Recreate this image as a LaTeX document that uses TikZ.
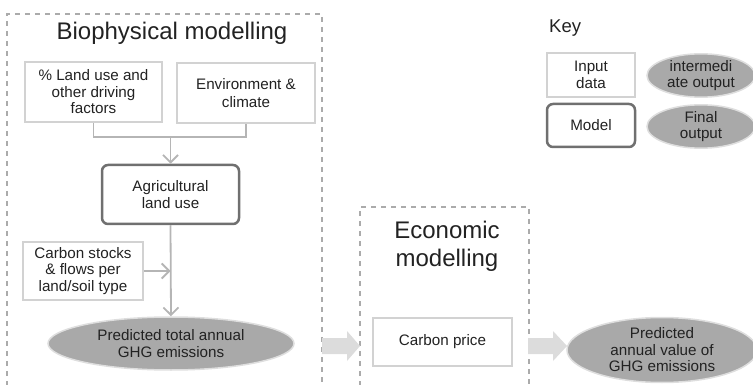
\documentclass[tikz,border=0pt]{standalone}
\usepackage{fontspec}
\setmainfont{Liberation Sans}
\usetikzlibrary{arrows.meta,shapes.geometric,calc}
\definecolor{txt}{HTML}{222222}
\definecolor{inborder}{HTML}{D2D2D2}
\definecolor{modborder}{HTML}{707070}
\definecolor{ellfill}{HTML}{A9A9A9}
\definecolor{ellborder}{HTML}{DEDEDE}
\definecolor{dashcol}{HTML}{ABABAB}
\definecolor{conncol}{HTML}{B5B5B5}
\definecolor{fatcol}{HTML}{DCDCDC}
\tikzset{
  boxtext/.style={text=txt, align=center, font=\fontsize{15.2}{16.5}\selectfont, inner sep=0pt},
  inputbox/.style={boxtext, draw=inborder, line width=2pt, fill=white},
  modelbox/.style={boxtext, draw=modborder, line width=2.5pt, rounded corners=6pt, fill=white},
  outell/.style={boxtext, ellipse, draw=ellborder, line width=1.5pt, fill=ellfill},
  dashframe/.style={draw=dashcol, line width=1.3pt, dash pattern=on 5pt off 5pt},
  conn/.style={draw=conncol, line width=1.8pt, -{Straight Barb[length=7.5pt,width=15pt,line width=1.8pt]}},
  plainconn/.style={draw=conncol, line width=1.8pt},
  fatarrow/.style={fill=fatcol, draw=none},
  title/.style={text=txt, align=center, inner sep=0pt}
}
\begin{document}
\begin{tikzpicture}[x=1pt,y=-1pt]
\useasboundingbox (0,0) rectangle (753,385);
\clip (0,0) rectangle (753,385);
% dashed frames
\draw[dashframe] (7,386) -- (7,14) -- (322,14) -- (322,386);
\draw[dashframe] (360,386) -- (360,207) -- (529,207) -- (529,386);
% titles
\node[title, font=\fontsize{24}{28}\selectfont] (biot) at (172,33) {Biophysical modelling};
\node[title, font=\fontsize{24}{28}\selectfont] (econt) at (447,246) {Economic\\modelling};
\node[title, font=\fontsize{18.5}{20}\selectfont, anchor=west] (key) at (549,28) {Key};
% biophysical nodes
\node[inputbox, minimum width=137pt, minimum height=60pt] (land) at (93.5,92) {\% Land use and\\other driving\\factors};
\node[inputbox, minimum width=138pt, minimum height=60pt, font=\fontsize{15.2}{18}\selectfont] (env) at (246,93) {Environment \&\\climate};
\node[modelbox, minimum width=137pt, minimum height=59pt] (agri) at (170.5,194.5) {Agricultural\\land use};
\node[inputbox, minimum width=120pt, minimum height=58pt] (carbon) at (83,271) {Carbon stocks\\\& flows per\\land/soil type};
\node[outell, minimum width=246pt, minimum height=53pt] (ghg) at (171,343.5) {Predicted total annual\\GHG emissions};
% economic nodes
\node[inputbox, minimum width=139pt, minimum height=48pt] (price) at (442.5,342) {Carbon price};
\node[outell, minimum width=190pt, minimum height=65pt] (value) at (662,350) {Predicted\\annual value of\\GHG emissions};
% key nodes
\node[inputbox, minimum width=88pt, minimum height=44pt] (kin) at (591,75) {Input\\data};
\node[modelbox, minimum width=88pt, minimum height=43pt] (kmod) at (591,125.5) {Model};
\node[outell, minimum width=108pt, minimum height=43pt] (kint) at (701,75.5) {intermedi\\ate output};
\node[outell, minimum width=108pt, minimum height=41pt] (kfin) at (701,126.5) {Final\\output};
% connectors
\coordinate (junc) at (agri.north |- 0,137);
\draw[plainconn] (land.south) |- (junc) -| (env.south);
\draw[conn] (junc) -- (agri.north);
\draw[conn] (agri.south) -- (ghg.north);
\draw[conn] (carbon.east) -- (carbon.east -| agri.south);
% fat arrows
\coordinate (fa1) at (322,346);
\coordinate (fa2) at (528,346);
\fill[fatarrow] ($(fa1)+(0,-8)$) -- ++(25,0) -- ++(0,-7) -- ++(13,15) -- ++(-13,15) -- ++(0,-7) -- ++(-25,0) -- cycle;
\fill[fatarrow] ($(fa2)+(0,-8)$) -- ++(25,0) -- ++(0,-7) -- ++(14,15) -- ++(-14,15) -- ++(0,-7) -- ++(-25,0) -- cycle;
\end{tikzpicture}
\end{document}
